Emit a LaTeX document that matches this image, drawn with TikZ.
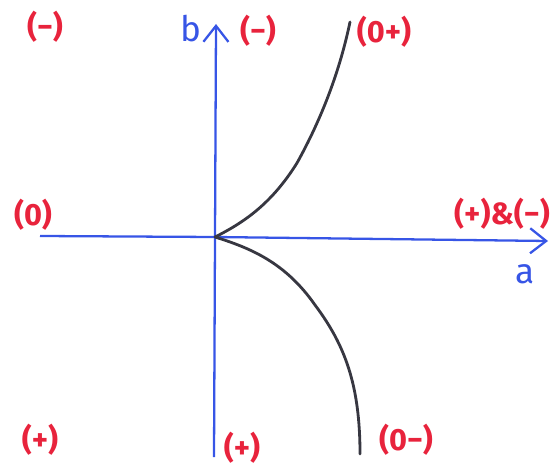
\documentclass[tikz,border=0pt]{standalone}
\usepackage{fontspec}
\setmainfont{Fira Sans}
\usetikzlibrary{arrows.meta, positioning}
\definecolor{penblue}{RGB}{55,85,230}
\definecolor{penred}{RGB}{232,35,60}
\definecolor{pengray}{RGB}{55,55,65}

\begin{document}
\begin{tikzpicture}[x=0.02cm, y=-0.02cm,
  ax/.style={penblue, line width=1.3pt, -{Straight Barb[length=3.2mm, width=5mm]}},
  branch/.style={pengray, line width=1.6pt, line cap=round},
  lbl/.style={text=penred, font=\fontsize{17.5}{19}\selectfont\bfseries, inner sep=1pt},
  axlbl/.style={text=penblue, font=\fontsize{20}{22}\selectfont, inner sep=1pt}
]
\useasboundingbox (0,0) rectangle (560,469);
% axes
\coordinate (O) at (215,237);
\coordinate (aL) at (40,236);
\coordinate (aR) at (548,241);
\coordinate (bB) at (214,457);
\coordinate (bT) at (216,24);
\draw[ax] (aL) -- (O) -- (aR);
\draw[ax] (bB) -- (O) -- (bT);
\node[axlbl] (b) at (191,29) {b};
\node[axlbl] (a) at (525,274) {a};
% the two branches
\coordinate (up) at (350,22);
\coordinate (dn) at (360,454);
\draw[branch] (O) .. controls (245,222) and (272,203) .. (297,163)
  .. controls (322,118) and (340,70) .. (up);
\draw[branch] (O) .. controls (250,248) and (285,262) .. (315,305)
  .. controls (345,345) and (360,385) .. (dn);
% sign labels
\node[lbl] (tl) at (45,27) {(−)};
\node[lbl] (tb) at (258,31) {(−)};
\node[lbl] (tu) at (384,32) {(0+)};
\node[lbl] (ml) at (33,215) {(0)};
\node[lbl] (mr) at (502,214) {(+)\&(−)};
\node[lbl] (bl) at (40,440) {(+)};
\node[lbl] (bb) at (242,448) {(+)};
\node[lbl] (bd) at (406,440) {(0−)};
\end{tikzpicture}
\end{document}
